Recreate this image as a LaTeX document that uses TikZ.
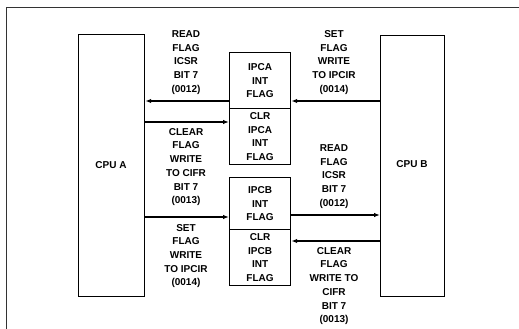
\documentclass[tikz,border=0pt]{standalone}
\usepackage{fontspec}
\setmainfont{Liberation Sans}
\usetikzlibrary{arrows.meta}
\begin{document}
\begin{tikzpicture}[x=1pt,y=-1pt,
  box/.style={draw,line width=1.2pt,inner sep=0pt,anchor=north west},
  lbl/.style={align=center,inner sep=0pt,font=\fontsize{10}{13.7}\selectfont\bfseries},
  arr/.style={line width=1.2pt,-{Latex[length=6pt,width=4.5pt]}}]
\useasboundingbox (0,0) rectangle (519,329);
% frame
\draw[line width=0.8pt,black!80] (6,329) -- (6,7) -- (519,7);
% CPUs
\node[box,minimum width=66pt,minimum height=262pt] (cpua) at (78,34) {};
\node[box,minimum width=64pt,minimum height=261pt] (cpub) at (380,35) {};
\node[lbl] (cpual) at (111,165) {CPU A};
\node[lbl] (cpubl) at (412,164) {CPU B};
% middle boxes
\node[box,minimum width=61pt,minimum height=56pt] (ipca) at (229,52) {};
\node[box,minimum width=61pt,minimum height=56pt] (clra) at (229,108) {};
\node[box,minimum width=61pt,minimum height=52pt] (ipcb) at (229,177) {};
\node[box,minimum width=61pt,minimum height=56pt] (clrb) at (229,229) {};
\node[lbl] (ipcat) at (ipca.center) {IPCA\\INT\\FLAG};
\node[lbl] (clrat) at (clra.center) {CLR\\IPCA\\INT\\FLAG};
\node[lbl] (ipcbt) at (ipcb.center) {IPCB\\INT\\FLAG};
\node[lbl] (clrbt) at (clrb.center) {CLR\\IPCB\\INT\\FLAG};
% arrows
\draw[arr] (ipca.west |- 0,101) -- (cpua.east |- 0,101);
\draw[arr] (cpua.east |- 0,122) -- (clra.west |- 0,122);
\draw[arr] (cpub.west |- 0,101) -- (ipca.east |- 0,101);
\draw[arr] (cpua.east |- 0,217) -- (ipcb.west |- 0,217);
\draw[arr] (ipcb.east |- 0,215) -- (cpub.west |- 0,215);
\draw[arr] (cpub.west |- 0,241) -- (clrb.east |- 0,241);
% labels
\node[lbl] (l1) at (186,62.5) {READ\\FLAG\\ICSR\\BIT 7\\(0012)};
\node[lbl] (l2) at (186,167) {CLEAR\\FLAG\\WRITE\\TO CIFR\\BIT 7\\(0013)};
\node[lbl] (l3) at (186,256) {SET\\FLAG\\WRITE\\TO IPCIR\\(0014)};
\node[lbl] (r1) at (334,62.5) {SET\\FLAG\\WRITE\\TO IPCIR\\(0014)};
\node[lbl] (r2) at (334,176.5) {READ\\FLAG\\ICSR\\BIT 7\\(0012)};
\node[lbl] (r3) at (334,286) {CLEAR\\FLAG\\WRITE TO\\CIFR\\BIT 7\\(0013)};
\end{tikzpicture}
\end{document}
